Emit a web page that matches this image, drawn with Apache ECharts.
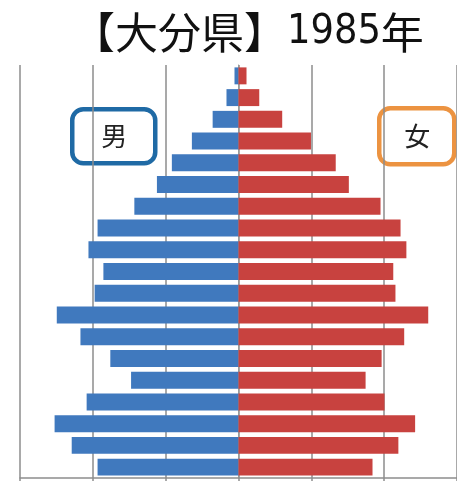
<!DOCTYPE html>
<html>
<head>
<meta charset="utf-8">
<script src="https://cdn.jsdelivr.net/npm/echarts@6/dist/echarts.min.js"></script>
<style>
  html, body { margin: 0; padding: 0; background: #fff; }
  #chart { width: 457px; height: 481px; }
</style>
</head>
<body>
<div id="chart"></div>
<script>
// Age groups, youngest first (category axis runs bottom to top)
const ageGroups = ['0-4', '5-9', '10-14', '15-19', '20-24', '25-29', '30-34', '35-39', '40-44',
  '45-49', '50-54', '55-59', '60-64', '65-69', '70-74', '75-79', '80-84', '85-89', '90+'];

// Population by age group, thousands of persons
const male = [38.7, 45.8, 50.5, 41.7, 29.5, 35.2, 43.4, 49.9, 39.5,
  37.1, 41.2, 38.7, 28.6, 22.4, 18.3, 12.8, 7.1, 3.3, 1.1];
const female = [36.8, 43.9, 48.5, 40.1, 34.9, 39.3, 45.5, 52.1, 43.1,
  42.5, 46.1, 44.5, 39.0, 30.3, 26.7, 19.9, 12.0, 5.7, 2.2];

// Value axis ticks (thousands), symmetric around zero
const axisTicks = [-60, -40, -20, 0, 20, 40, 60];

const chart = echarts.init(document.getElementById('chart'), null, { renderer: 'canvas' });

const gridColor = '#8d8d8d';

chart.setOption({
  animation: false,
  backgroundColor: '#ffffff',
  title: {
    text: '{a|【大分県】}{b|1985}{a|年}',
    left: 67,
    top: 6,
    textStyle: {
      rich: {
        a: { fontFamily: 'Noto Sans CJK JP', fontSize: 43, color: '#111', fontWeight: 'normal' },
        b: { fontFamily: '"DejaVu Sans Condensed", "Noto Sans CJK JP", sans-serif', fontSize: 41, color: '#111', fontWeight: 'normal' }
      }
    }
  },
  grid: { left: 20, width: 440, top: 65, bottom: 3, containLabel: false },
  xAxis: {
    type: 'value',
    min: axisTicks[0],
    max: axisTicks[axisTicks.length - 1],
    interval: axisTicks[1] - axisTicks[0],
    axisLine: { show: true, lineStyle: { color: gridColor, width: 1.5 } },
    axisTick: { show: true, length: 4, lineStyle: { color: gridColor, width: 1.5 } },
    axisLabel: { show: false },
    splitLine: { show: true, lineStyle: { color: gridColor, width: 1.5 } }
  },
  yAxis: {
    type: 'category',
    data: ageGroups,
    axisLine: { show: true, onZero: true, lineStyle: { color: '#9a9a9a', width: 1 } },
    axisTick: { show: false },
    axisLabel: { show: false },
    splitLine: { show: false }
  },
  series: [
    {
      name: '男',
      type: 'bar',
      data: male.map(v => -v),
      barCategoryGap: '22%',
      barGap: '-100%',
      itemStyle: { color: '#4079be' }
    },
    {
      name: '女',
      type: 'bar',
      data: female,
      barCategoryGap: '22%',
      barGap: '-100%',
      itemStyle: { color: '#c8423f' }
    }
  ],
  graphic: [
    {
      type: 'group',
      left: 70,
      top: 107,
      children: [
        {
          type: 'rect',
          shape: { x: 0, y: 0, width: 83, height: 54, r: 11 },
          style: { fill: '#ffffff', stroke: '#1f6aa5', lineWidth: 4.5 }
        },
        {
          type: 'text',
          style: {
            x: 42, y: 27, text: '男', align: 'center', verticalAlign: 'middle',
            fontFamily: 'Noto Sans CJK JP', fontSize: 26, fill: '#222'
          }
        }
      ]
    },
    {
      type: 'group',
      left: 377,
      top: 106,
      children: [
        {
          type: 'rect',
          shape: { x: 0, y: 0, width: 75, height: 56, r: 11 },
          style: { fill: '#ffffff', stroke: '#ec9341', lineWidth: 4.5 }
        },
        {
          type: 'text',
          style: {
            x: 38, y: 28, text: '女', align: 'center', verticalAlign: 'middle',
            fontFamily: 'Noto Sans CJK JP', fontSize: 26, fill: '#222'
          }
        }
      ]
    }
  ]
});
</script>
</body>
</html>
